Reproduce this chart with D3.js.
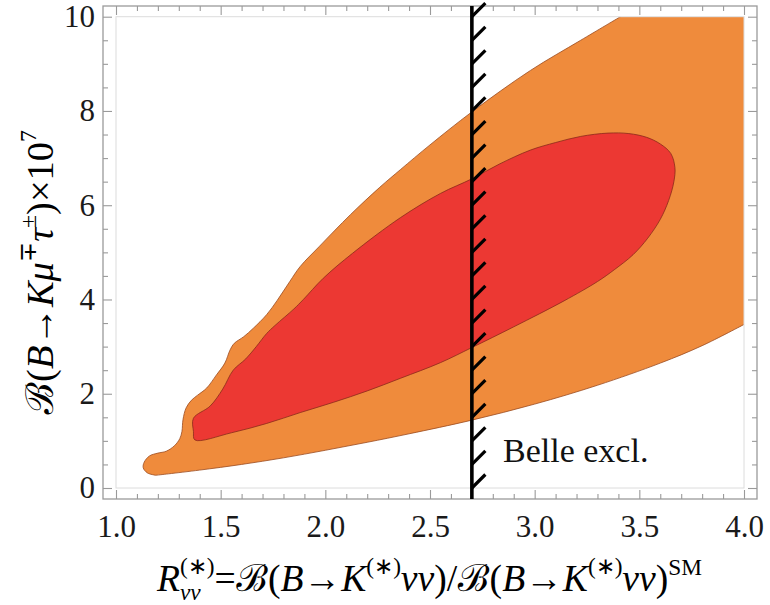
<!DOCTYPE html>
<html><head><meta charset="utf-8">
<script src="https://cdn.jsdelivr.net/npm/d3@7"></script>
<style>
html,body{margin:0;padding:0;background:#fff;}
svg{display:block;}
</style></head>
<body>
<svg id="chart" width="770" height="605"></svg>
<script>
// ---- data ----
const xMajorTicks = [1.0, 1.5, 2.0, 2.5, 3.0, 3.5, 4.0];
const yMajorTicks = [0, 2, 4, 6, 8, 10];
const xMinorTicks = [1.1,1.2,1.3,1.4,1.6,1.7,1.8,1.9,2.1,2.2,2.3,2.4,2.6,2.7,2.8,2.9,3.1,3.2,3.3,3.4,3.6,3.7,3.8,3.9];
const yMinorTicks = [0.5,1,1.5,2.5,3,3.5,4.5,5,5.5,6.5,7,7.5,8.5,9,9.5];

// outer (orange) region: upper boundary from the left tip to the top edge
const orangeUpper = [[1.19,0.27],[1.15,0.32],[1.13,0.43],[1.135,0.55],[1.16,0.68],[1.2,0.74],[1.24,0.78],[1.28,0.9],[1.305,1.05],[1.315,1.2],[1.32,1.45],[1.335,1.7],[1.36,1.86],[1.39,1.97],[1.433,2.12],[1.48,2.4],[1.52,2.65],[1.545,2.93],[1.565,3.07],[1.61,3.21],[1.656,3.39],[1.72,3.68],[1.77,3.98],[1.83,4.38],[1.88,4.7],[1.97,5.12],[2.12,5.8],[2.26,6.38],[2.36,6.76],[2.5,7.28],[2.7,7.98],[2.98,8.86],[3.22,9.5],[3.41,10.0]];
// outer (orange) region: lower boundary from the left tip to the right edge
const orangeLower = [[1.19,0.27],[1.25,0.3],[1.4,0.38],[1.6,0.5],[1.8,0.64],[2.0,0.8],[2.2,0.97],[2.4,1.15],[2.7,1.44],[3.0,1.78],[3.3,2.18],[3.6,2.65],[3.8,3.02],[4.0,3.47]];
const plotCorner = [4.0, 10.0];
// inner (red) region, closed contour
const redContour = [[1.377,1.02],[1.55,1.17],[1.72,1.37],[1.88,1.6],[2.04,1.82],[2.2,2.06],[2.36,2.33],[2.55,2.66],[2.7,2.98],[2.9,3.42],[3.14,3.97],[3.3,4.38],[3.38,4.63],[3.47,4.95],[3.54,5.3],[3.6,5.7],[3.64,6.1],[3.665,6.5],[3.67,6.8],[3.65,7.1],[3.6,7.3],[3.535,7.44],[3.45,7.52],[3.35,7.53],[3.22,7.46],[3.1,7.33],[2.98,7.17],[2.83,6.87],[2.7,6.56],[2.55,6.25],[2.36,5.74],[2.13,4.98],[1.99,4.45],[1.895,4.0],[1.85,3.8],[1.76,3.45],[1.72,3.28],[1.67,3.0],[1.62,2.74],[1.56,2.5],[1.51,2.1],[1.45,1.74],[1.37,1.48],[1.37,1.2]];
const belleX = 2.7;
const hatchStep = 0.5;
const belleLabel = "Belle excl.";

// ---- layout ----
const svg = d3.select("#chart");
const frame = {l:103, r:757, t:6, b:499};
const x = d3.scaleLinear().domain([1,4]).range([116,744]);
const y = d3.scaleLinear().domain([0,10]).range([488,16.7]);
const serif = "'Liberation Serif','Times New Roman',serif";

svg.append("clipPath").attr("id","plotclip").append("rect")
  .attr("x", x(1)).attr("y", y(10)).attr("width", x(4)-x(1)).attr("height", y(0)-y(10));

const plot = svg.append("g").attr("clip-path","url(#plotclip)");

const curve = d3.line().x(d=>x(d[0])).y(d=>y(d[1])).curve(d3.curveCatmullRom.alpha(0.5));
const curveClosed = d3.line().x(d=>x(d[0])).y(d=>y(d[1])).curve(d3.curveCatmullRomClosed.alpha(0.5));

// orange fill
const upperPath = curve(orangeUpper);
const lowerRev = curve(orangeLower.slice().reverse()).replace(/^M/,"L");
const orangePath = upperPath + "L" + x(plotCorner[0]) + "," + y(plotCorner[1]) + lowerRev + "Z";
plot.append("path").attr("d", orangePath).attr("fill","#ef8b3c").attr("stroke","none");
plot.append("path").attr("d", upperPath).attr("fill","none").attr("stroke","#9a4a1e").attr("stroke-width",0.8);
plot.append("path").attr("d", curve(orangeLower)).attr("fill","none").attr("stroke","#9a4a1e").attr("stroke-width",0.8);

// red fill
plot.append("path").attr("d", curveClosed(redContour)).attr("fill","#ec3833")
  .attr("stroke","#8a2a1a").attr("stroke-width",0.8);

// inner plot-range rectangle (light)
svg.append("rect").attr("x", x(1)).attr("y", y(10)).attr("width", x(4)-x(1)).attr("height", y(0)-y(10))
  .attr("fill","none").attr("stroke","#dcdcdc").attr("stroke-width",1);

// frame
svg.append("rect").attr("x", frame.l).attr("y", frame.t).attr("width", frame.r-frame.l).attr("height", frame.b-frame.t)
  .attr("fill","none").attr("stroke","#9a9a9a").attr("stroke-width",1.3);

function styleAxis(g, showLabels){
  g.select(".domain").remove();
  g.selectAll(".tick line").attr("stroke","#9a9a9a").attr("stroke-width",1.1);
  if(!showLabels) g.selectAll(".tick text").remove();
  else g.selectAll(".tick text").attr("font-family", serif).attr("font-size", 31).attr("fill","#1a1a1a");
}
// bottom
svg.append("g").attr("transform",`translate(0,${frame.b})`)
  .call(d3.axisBottom(x).tickValues(xMajorTicks).tickSize(-9).tickPadding(16).tickFormat(d3.format(".1f")))
  .call(g=>styleAxis(g,true));
svg.append("g").attr("transform",`translate(0,${frame.b})`)
  .call(d3.axisBottom(x).tickValues(xMinorTicks).tickSize(-5)).call(g=>styleAxis(g,false));
// top
svg.append("g").attr("transform",`translate(0,${frame.t})`)
  .call(d3.axisTop(x).tickValues(xMajorTicks).tickSize(-9)).call(g=>styleAxis(g,false));
svg.append("g").attr("transform",`translate(0,${frame.t})`)
  .call(d3.axisTop(x).tickValues(xMinorTicks).tickSize(-5)).call(g=>styleAxis(g,false));
// left
svg.append("g").attr("transform",`translate(${frame.l},0)`)
  .call(d3.axisLeft(y).tickValues(yMajorTicks).tickSize(-9).tickPadding(8).tickFormat(d3.format("d")))
  .call(g=>styleAxis(g,true));
svg.append("g").attr("transform",`translate(${frame.l},0)`)
  .call(d3.axisLeft(y).tickValues(yMinorTicks).tickSize(-5)).call(g=>styleAxis(g,false));
// right
svg.append("g").attr("transform",`translate(${frame.r},0)`)
  .call(d3.axisRight(y).tickValues(yMajorTicks).tickSize(-9)).call(g=>styleAxis(g,false));
svg.append("g").attr("transform",`translate(${frame.r},0)`)
  .call(d3.axisRight(y).tickValues(yMinorTicks).tickSize(-5)).call(g=>styleAxis(g,false));

// Belle exclusion line with hatching
const hatchVals = d3.range(0, 10 + 1e-9, hatchStep);
const bx = x(belleX);
svg.append("g").selectAll("line").data(hatchVals).join("line")
  .attr("x1", bx).attr("y1", d=>y(d)).attr("x2", bx+13.5).attr("y2", d=>y(d)-13.5)
  .attr("stroke","#000").attr("stroke-width",3.2).attr("stroke-linecap","butt");
svg.append("line").attr("x1", bx).attr("x2", bx).attr("y1", frame.t).attr("y2", frame.b)
  .attr("stroke","#000").attr("stroke-width",3.6);

svg.append("text").attr("x", 503).attr("y", 462).attr("font-family", serif).attr("font-size", 34)
  .attr("fill","#111").text(belleLabel);

// ---- math labels ----
function mathLabel(parent, segs, base){
  const g = parent.append("g");
  let cx = 0, prevStart = 0, prevEnd = 0;
  segs.forEach(s=>{
    const fs = base*(s.sz||1);
    const t = g.append("text").attr("font-family", s.font || serif)
      .attr("font-style", s.it ? "italic" : "normal").attr("font-size", fs)
      .attr("y", (s.dy||0)*base).attr("fill","#000").text(s.t);
    const w = t.node().getComputedTextLength();
    const sx = s.stack ? prevStart : cx;
    t.attr("x", sx);
    if(s.stack){ cx = Math.max(prevEnd, sx + w); }
    else { prevStart = sx; prevEnd = sx + w; cx = sx + w; }
  });
  return {g, width: cx};
}
const scriptFont = "'DejaVu Serif','Noto Sans',serif";
const xLabelSegs = [
  {t:"R", it:true},
  {t:"(∗)", sz:0.62, dy:-0.45},
  {t:"νν", it:true, sz:0.62, dy:0.24, stack:true},
  {t:"="},
  {t:"ℬ", font:scriptFont, it:true},
  {t:"("},
  {t:"B", it:true},
  {t:"→"},
  {t:"K", it:true},
  {t:"(∗)", sz:0.62, dy:-0.45},
  {t:"νν", it:true},
  {t:")/"},
  {t:"ℬ", font:scriptFont, it:true},
  {t:"("},
  {t:"B", it:true},
  {t:"→"},
  {t:"K", it:true},
  {t:"(∗)", sz:0.62, dy:-0.45},
  {t:"νν", it:true},
  {t:")"},
  {t:"SM", sz:0.62, dy:-0.42}
];
const xl = mathLabel(svg, xLabelSegs, 36);
const xs = (702-157)/xl.width;
xl.g.attr("transform", `translate(157,591) scale(${xs})`);

const yLabelSegs = [
  {t:"ℬ", font:scriptFont, it:true},
  {t:"("},
  {t:"B", it:true},
  {t:"→"},
  {t:"K", it:true},
  {t:"μ", it:true},
  {t:"∓", sz:0.62, dy:-0.45},
  {t:"τ", it:true},
  {t:"±", sz:0.62, dy:-0.45},
  {t:")×10"},
  {t:"7", sz:0.62, dy:-0.45}
];
const yl = mathLabel(svg, yLabelSegs, 34);
const ys = (415-130)/yl.width;
yl.g.attr("transform", `translate(53,415) rotate(-90) scale(${ys})`);
</script>
</body></html>
